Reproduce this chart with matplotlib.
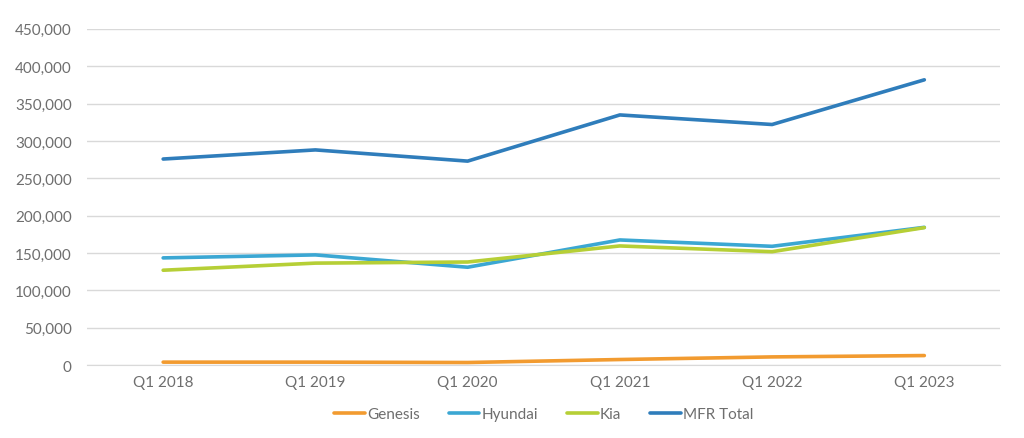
import matplotlib
matplotlib.use("Agg")
import matplotlib.pyplot as plt
from matplotlib.ticker import FuncFormatter, MultipleLocator

categories = ["Q1 2018", "Q1 2019", "Q1 2020", "Q1 2021", "Q1 2022", "Q1 2023"]
genesis = [4000, 4000, 3500, 7500, 11000, 12800]
hyundai = [143500, 147500, 131000, 167500, 159000, 184400]
kia = [127000, 136500, 138000, 159500, 151800, 184000]
mfr_total = [275800, 288000, 273000, 334800, 322000, 381800]

series = [
    ("Genesis", genesis, "#F29B30"),
    ("Hyundai", hyundai, "#3BA7D3"),
    ("Kia", kia, "#B6CF36"),
    ("MFR Total", mfr_total, "#2F7DBB"),
]

plt.rcParams['font.family'] = ['Lato', 'DejaVu Sans']
fig = plt.figure(figsize=(10.24, 4.39), dpi=100)
ax = fig.add_axes([0.085, 0.166, 0.892, 0.766])

x = list(range(len(categories)))
for name, vals, col in series:
    ax.plot(x, vals, color=col, lw=2.6, label=name, solid_capstyle='round')

ax.set_xlim(-0.5, len(categories) - 0.5)
ax.set_ylim(0, 450000)
ax.yaxis.set_major_locator(MultipleLocator(50000))
ax.yaxis.set_major_formatter(FuncFormatter(lambda v, p: f"{int(v):,}"))
ax.set_xticks(x)
ax.set_xticklabels(categories)
ax.grid(axis='y', color='#D9D9D9', lw=1)
ax.set_axisbelow(True)
for s in ax.spines.values():
    s.set_visible(False)
ax.spines['bottom'].set_visible(True)
ax.spines['bottom'].set_color('#D9D9D9')
ax.tick_params(axis='both', length=0, colors='#6E6E6E', labelsize=11)
ax.tick_params(axis='y', pad=11)
ax.tick_params(axis='x', pad=7)

leg = ax.legend(loc='upper center', bbox_to_anchor=(0.5, -0.085), ncol=4, frameon=False,
                fontsize=11, handlelength=2.0, handletextpad=0.15, columnspacing=1.9)
for t in leg.get_texts():
    t.set_color('#6E6E6E')

fig.savefig("out.png", dpi=100)
